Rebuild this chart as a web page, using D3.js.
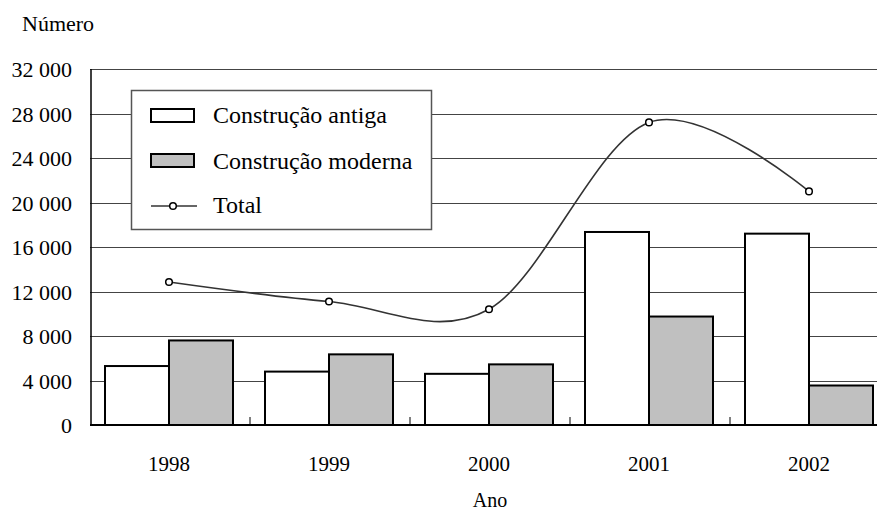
<!DOCTYPE html>
<html>
<head>
<meta charset="utf-8">
<script src="https://cdn.jsdelivr.net/npm/d3@7"></script>
<style>
  body { margin: 0; background: #fff; }
</style>
</head>
<body>
<svg id="chart" width="877" height="512" font-family="'Liberation Serif', Tinos, 'Times New Roman', Times, 'DejaVu Serif', serif"></svg>
<script>
const years = ['1998', '1999', '2000', '2001', '2002'];
const antiga = [5300, 4800, 4600, 17350, 17200];
const moderna = [7600, 6350, 5450, 9750, 3550];
const total = [12850, 11100, 10400, 27200, 21000];
const yTicks = [0, 4000, 8000, 12000, 16000, 20000, 24000, 28000, 32000];
const seriesNames = ['Construção antiga', 'Construção moderna', 'Total'];

const svg = d3.select('#chart');

let x = d3.scaleBand().domain(years).range([89, 889]);
let xInner = d3.scaleBand().domain(['antiga', 'moderna']).range([16, 144]);
let y = d3.scaleLinear().domain([0, 32000]).range([425, 69]);

// gridlines
svg.append('g')
  .selectAll('line')
  .data(yTicks.slice(1))
  .join('line')
  .attr('x1', 90)
  .attr('x2', 877)
  .attr('y1', d => Math.round(y(d)) + 0.5)
  .attr('y2', d => Math.round(y(d)) + 0.5)
  .attr('stroke', '#444')
  .attr('stroke-width', 1.2);

// y tick labels
svg.append('g')
  .selectAll('text')
  .data(yTicks)
  .join('text')
  .attr('x', 72)
  .attr('y', d => y(d) + 8)
  .attr('text-anchor', 'end')
  .attr('font-size', 22)
  .text(d => d3.format(',')(d).replace(',', ' '));

// bars
const rows = years.map((yr, i) => ({ yr, antiga: antiga[i], moderna: moderna[i] }));
let groups = svg.append('g')
  .selectAll('g')
  .data(rows)
  .join('g')
  .attr('transform', d => `translate(${x(d.yr)},0)`);

groups.selectAll('rect')
  .data(d => ['antiga', 'moderna'].map(k => ({ k, v: d[k] })))
  .join('rect')
  .attr('x', d => xInner(d.k))
  .attr('width', xInner.bandwidth())
  .attr('y', d => y(d.v))
  .attr('height', d => y(0) - y(d.v))
  .attr('fill', d => (d.k === 'antiga' ? '#fff' : '#c0c0c0'))
  .attr('stroke', '#000')
  .attr('stroke-width', 2);

// axes lines
svg.append('line')
  .attr('x1', 91).attr('x2', 91)
  .attr('y1', y(32000)).attr('y2', y(0))
  .attr('stroke', '#000').attr('stroke-width', 1.5);
svg.append('line')
  .attr('x1', 90).attr('x2', 877)
  .attr('y1', y(0)).attr('y2', y(0))
  .attr('stroke', '#000').attr('stroke-width', 2);

// x ticks between categories (inward)
svg.append('g')
  .selectAll('line')
  .data(years.slice(1))
  .join('line')
  .attr('x1', d => x(d) + 1)
  .attr('x2', d => x(d) + 1)
  .attr('y1', y(0))
  .attr('y2', y(0) - 8)
  .attr('stroke', '#000')
  .attr('stroke-width', 1);

// x labels
svg.append('g')
  .selectAll('text')
  .data(years)
  .join('text')
  .attr('x', d => x(d) + x.bandwidth() / 2)
  .attr('y', 471)
  .attr('text-anchor', 'middle')
  .attr('font-size', 21)
  .text(d => d);

// total line, smoothed
let line = d3.line()
  .x((d, i) => x(years[i]) + x.bandwidth() / 2)
  .y(d => y(d))
  .curve(d3.curveCardinal.tension(0));

svg.append('path')
  .attr('d', line(total))
  .attr('fill', 'none')
  .attr('stroke', '#333')
  .attr('stroke-width', 1.6);

svg.append('g')
  .selectAll('circle')
  .data(total)
  .join('circle')
  .attr('cx', (d, i) => x(years[i]) + x.bandwidth() / 2)
  .attr('cy', d => y(d))
  .attr('r', 3.3)
  .attr('fill', '#fff')
  .attr('stroke', '#000')
  .attr('stroke-width', 1.5);

// legend
let legend = svg.append('g');
legend.append('rect')
  .attr('x', 131.5).attr('y', 90.5)
  .attr('width', 300).attr('height', 139)
  .attr('fill', '#fff')
  .attr('stroke', '#555')
  .attr('stroke-width', 1.5);

const legendY = [123, 169, 213];
legend.append('rect')
  .attr('x', 151).attr('y', 109).attr('width', 43).attr('height', 13)
  .attr('fill', '#fff').attr('stroke', '#000').attr('stroke-width', 2);
legend.append('rect')
  .attr('x', 151).attr('y', 154).attr('width', 43).attr('height', 13)
  .attr('fill', '#c0c0c0').attr('stroke', '#000').attr('stroke-width', 2);
legend.append('line')
  .attr('x1', 151).attr('x2', 197).attr('y1', 206).attr('y2', 206)
  .attr('stroke', '#333').attr('stroke-width', 1.6);
legend.append('circle')
  .attr('cx', 173).attr('cy', 206).attr('r', 3.3)
  .attr('fill', '#fff').attr('stroke', '#000').attr('stroke-width', 1.5);

legend.selectAll('text.item')
  .data(seriesNames)
  .join('text')
  .attr('class', 'item')
  .attr('x', 213)
  .attr('y', (d, i) => legendY[i])
  .attr('font-size', 24)
  .text(d => d);

// axis titles
svg.append('text')
  .attr('x', 22).attr('y', 31)
  .attr('font-size', 22)
  .text('Número');
svg.append('text')
  .attr('x', 490).attr('y', 507)
  .attr('text-anchor', 'middle')
  .attr('font-size', 20)
  .text('Ano');
</script>
</body>
</html>
